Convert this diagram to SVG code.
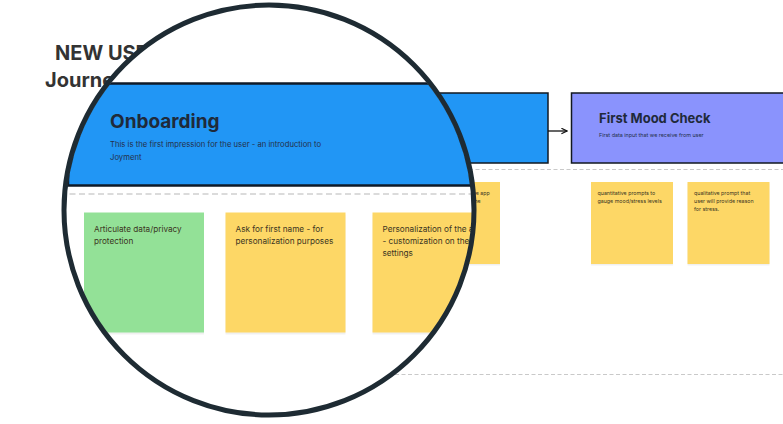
<svg xmlns="http://www.w3.org/2000/svg" width="783" height="424" viewBox="0 0 783 424">
  <defs>
    <style>
      .title { font-family: Inter, "Liberation Sans", sans-serif; font-weight: 700; fill: #333333; }
      .stage { stroke: #121820; stroke-width: 1.5; }
      .stageTitle { font-family: Inter, "Liberation Sans", sans-serif; font-weight: 700; fill: #1f2a3a; }
      .stageSub { font-family: Inter, "Liberation Sans", sans-serif; fill: #24304a; }
      .note { fill: #fdd766; }
      .noteGreen { fill: #93e197; }
      .shadow { fill: #000000; opacity: 0.06; }
      .noteText { font-family: Inter, "Liberation Sans", sans-serif; fill: #3b3522; }
      .dash { fill: none; stroke: #c9c9c9; stroke-width: 1; stroke-dasharray: 4 2.5; }
      .dashBig { fill: none; stroke: #cfcfcf; stroke-width: 1.5; stroke-dasharray: 6 3.5; }
      .conn { fill: none; stroke: #111111; stroke-width: 1.3; }
    </style>
    <marker id="chev" viewBox="0 0 10 10" refX="9" refY="5" markerWidth="7" markerHeight="7" markerUnits="userSpaceOnUse" orient="auto">
      <path d="M1,1 L9,5 L1,9" fill="none" stroke="#111111" stroke-width="1.6"/>
    </marker>
    <clipPath id="lensClip">
      <circle cx="269" cy="210" r="203"/>
    </clipPath>
  </defs>

  <rect x="0" y="0" width="783" height="424" fill="#ffffff"/>

  <!-- background (unmagnified) scene -->
  <g id="board-title">
    <text class="title" x="55" y="60" font-size="20">NEW USER</text>
    <text class="title" x="45" y="87" font-size="20">Journey</text>
  </g>

  <line class="dash" x1="209" y1="169.5" x2="783" y2="169.5"/>
  <line class="dash" x1="395" y1="374.5" x2="783" y2="374.5"/>

  <g id="onboarding-bg">
    <rect class="stage" x="209" y="93" width="339" height="70" fill="#2196f5"/>
  </g>

  <g id="connectors">
    <line class="conn" x1="548" y1="131" x2="567" y2="131" marker-end="url(#chev)"/>
  </g>

  <g id="first-mood-check">
    <rect class="stage" x="571.5" y="93" width="220" height="70" fill="#8a93fd"/>
    <text class="stageTitle" x="599" y="123" font-size="13">First Mood Check</text>
    <text class="stageSub" x="599" y="137" font-size="5.4">First data input that we receive from user</text>
  </g>

  <g id="note-personalization-bg">
    <rect class="shadow" x="418" y="183.5" width="82" height="82"/>
    <rect class="note" x="418" y="182" width="82" height="82"/>
    <text class="noteText" font-size="5.3"><tspan x="424.5" y="194.5">Personalization of the app</tspan><tspan x="424.5" y="202.5">- customization on the</tspan><tspan x="424.5" y="210.5">settings</tspan></text>
  </g>

  <g id="note-quantitative">
    <rect class="shadow" x="591" y="183.5" width="82" height="82"/>
    <rect class="note" x="591" y="182" width="82" height="82"/>
    <text class="noteText" font-size="5.3"><tspan x="597.5" y="194.5">quantitative prompts to</tspan><tspan x="597.5" y="202.5">gauge mood/stress levels</tspan></text>
  </g>

  <g id="note-qualitative">
    <rect class="shadow" x="687.5" y="183.5" width="82" height="82"/>
    <rect class="note" x="687.5" y="182" width="82" height="82"/>
    <text class="noteText" font-size="5.3"><tspan x="694" y="194.5">qualitative prompt that</tspan><tspan x="694" y="202.5">user will provide reason</tspan><tspan x="694" y="210.5">for stress.</tspan></text>
  </g>

  <!-- magnifier lens -->
  <g id="lens">
    <circle cx="269" cy="210" r="205" fill="#ffffff"/>
    <g clip-path="url(#lensClip)">
      <g id="onboarding">
        <rect x="68" y="83.5" width="600" height="102" fill="#2196f5" stroke="#0f1a28" stroke-width="2.5"/>
        <text class="stageTitle" x="110" y="127.5" font-size="19">Onboarding</text>
        <text class="stageSub" font-size="7.7"><tspan x="110" y="147">This is the first impression for the user - an introduction to</tspan><tspan x="110" y="159.5">Joyment</tspan></text>
      </g>
      <line class="dashBig" x1="60" y1="194" x2="480" y2="194"/>
      <g id="note-privacy">
        <rect class="shadow" x="84" y="214.5" width="120" height="120"/>
        <rect class="noteGreen" x="84" y="212.5" width="120" height="120"/>
        <text class="noteText" font-size="8.2" fill="#2f3a2f"><tspan x="94" y="232">Articulate data/privacy</tspan><tspan x="94" y="244">protection</tspan></text>
      </g>
      <g id="note-first-name">
        <rect class="shadow" x="225.5" y="214.5" width="120" height="120"/>
        <rect class="note" x="225.5" y="212.5" width="120" height="120"/>
        <text class="noteText" font-size="8.2"><tspan x="235.5" y="232">Ask for first name - for</tspan><tspan x="235.5" y="244">personalization purposes</tspan></text>
      </g>
      <g id="note-personalization">
        <rect class="shadow" x="372.5" y="214.5" width="120" height="120"/>
        <rect class="note" x="372.5" y="212.5" width="120" height="120"/>
        <text class="noteText" font-size="8.2"><tspan x="382.5" y="232">Personalization of the app</tspan><tspan x="382.5" y="244">- customization on the</tspan><tspan x="382.5" y="256">settings</tspan></text>
      </g>
    </g>
    <circle cx="269" cy="210" r="205" fill="none" stroke="#1e2b33" stroke-width="5"/>
  </g>
</svg>
